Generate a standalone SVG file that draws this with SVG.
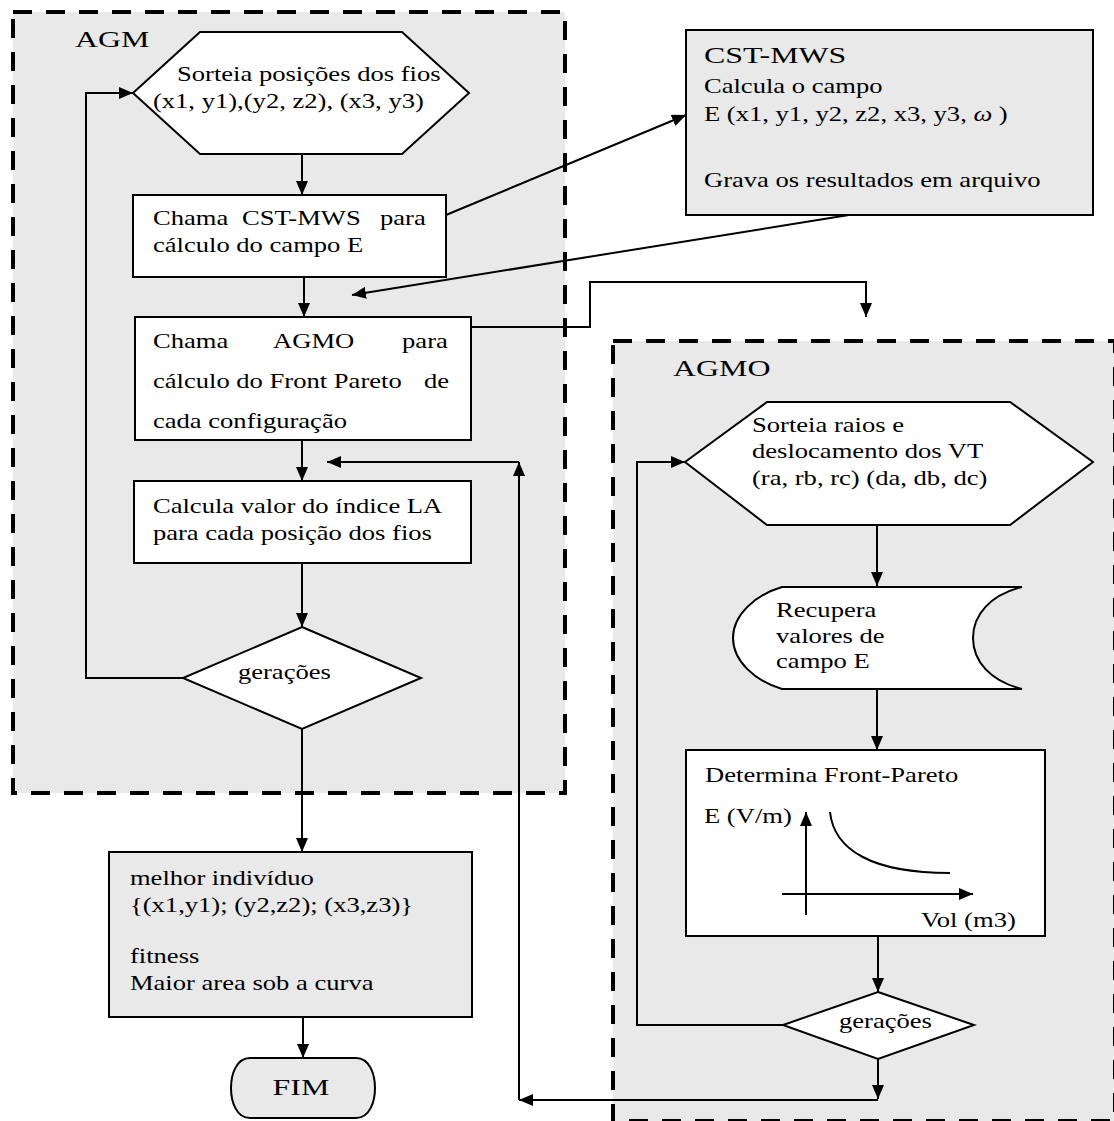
<svg xmlns="http://www.w3.org/2000/svg" width="1114" height="1121" viewBox="0 0 1114 1121">
<style>
.t{font-family:"Liberation Serif","Times New Roman",serif;font-size:20px;fill:#000}
.big{font-size:24px}
.box{fill:#fff;stroke:#000;stroke-width:2}
.gbox{fill:#e9e9e9;stroke:#000;stroke-width:2}
.grp{fill:#e9e9e9;stroke:#000;stroke-width:4;stroke-dasharray:19 14}
.c{fill:none;stroke:#000;stroke-width:2}
</style>
<defs>
<marker id="ah" markerWidth="14" markerHeight="12" refX="14" refY="6" orient="auto" markerUnits="userSpaceOnUse"><path d="M0,0 L14,6 L0,12 z" fill="#000"/></marker>
</defs>
<rect width="1114" height="1121" fill="#fff"/>
<g id="agm-group">
<rect class="grp" x="13" y="12" width="552" height="781"/>
<text class="t big" transform="scale(1.33,1)" x="56.4" y="47">AGM</text>
</g>
<g id="agmo-group">
<rect class="grp" x="613" y="341" width="502" height="780"/>
<text class="t big" transform="scale(1.33,1)" x="506" y="376">AGMO</text>
</g>
<g id="connectors">
<line class="c" x1="302" y1="154" x2="302" y2="195" marker-end="url(#ah)"/>
<line class="c" x1="304" y1="277" x2="304" y2="317" marker-end="url(#ah)"/>
<line class="c" x1="302" y1="440" x2="302" y2="481" marker-end="url(#ah)"/>
<line class="c" x1="302" y1="563" x2="302" y2="627" marker-end="url(#ah)"/>
<line class="c" x1="302" y1="729" x2="302" y2="852" marker-end="url(#ah)"/>
<line class="c" x1="303" y1="1017" x2="303" y2="1058" marker-end="url(#ah)"/>
<polyline class="c" points="183,678 86,678 86,93 133,93" marker-end="url(#ah)"/>
<line class="c" x1="446" y1="215" x2="686" y2="115" marker-end="url(#ah)"/>
<line class="c" x1="855" y1="214" x2="352" y2="295" marker-end="url(#ah)"/>
<polyline class="c" points="471,327 590,327 590,282 866,282 866,317" marker-end="url(#ah)"/>
<line class="c" x1="877" y1="525" x2="877" y2="586" marker-end="url(#ah)"/>
<line class="c" x1="877" y1="689" x2="877" y2="750" marker-end="url(#ah)"/>
<line class="c" x1="878" y1="936" x2="878" y2="992" marker-end="url(#ah)"/>
<polyline class="c" points="783,1025 637,1025 637,462 685,462" marker-end="url(#ah)"/>
<line class="c" x1="878" y1="1059" x2="878" y2="1099" marker-end="url(#ah)"/>
<line class="c" x1="878" y1="1100" x2="519" y2="1100" marker-end="url(#ah)"/>
<line class="c" x1="519" y1="1100" x2="519" y2="462" marker-end="url(#ah)"/>
<line class="c" x1="519" y1="462" x2="327" y2="462" marker-end="url(#ah)"/>
</g>
<g id="hex1">
<polygon class="box" points="133,93 200,32 402,32 469,93 402,154 200,154"/>
<text class="t" transform="scale(1.33,1)" x="133.1" y="81">Sorteia posições dos fios</text>
<text class="t" transform="scale(1.33,1)" x="115" y="108">(x1, y1),(y2, z2), (x3, y3)</text>
</g>
<g id="box1">
<rect class="box" x="133" y="195" width="313" height="82"/>
<text class="t" transform="scale(1.33,1)" y="225"><tspan x="115">Chama</tspan><tspan x="182">CST-MWS</tspan><tspan x="285.7">para</tspan></text>
<text class="t" transform="scale(1.33,1)" x="115" y="252">cálculo do campo E</text>
</g>
<g id="box2">
<rect class="box" x="135" y="317" width="336" height="123"/>
<text class="t" transform="scale(1.33,1)" y="348"><tspan x="115">Chama</tspan><tspan x="205.3">AGMO</tspan><tspan x="302.3">para</tspan></text>
<text class="t" transform="scale(1.33,1)" y="388"><tspan x="115">cálculo do Front Pareto</tspan><tspan x="318.8">de</tspan></text>
<text class="t" transform="scale(1.33,1)" x="115" y="428">cada configuração</text>
</g>
<g id="box3">
<rect class="box" x="134" y="481" width="337" height="82"/>
<text class="t" transform="scale(1.33,1)" x="115" y="513">Calcula valor do índice LA</text>
<text class="t" transform="scale(1.33,1)" x="115" y="540">para cada posição dos fios</text>
</g>
<g id="dec1">
<polygon class="box" points="302,627 421,678 302,729 183,678"/>
<text class="t" transform="scale(1.33,1)" x="178.9" y="679">gerações</text>
</g>
<g id="box4">
<rect class="gbox" x="109" y="852" width="363" height="165"/>
<text class="t" transform="scale(1.33,1)" x="97.7" y="885">melhor indivíduo</text>
<text class="t" transform="scale(1.33,1)" x="97.7" y="912">{(x1,y1); (y2,z2); (x3,z3)}</text>
<text class="t" transform="scale(1.33,1)" x="97.7" y="963">fitness</text>
<text class="t" transform="scale(1.33,1)" x="97.7" y="990">Maior area sob a curva</text>
</g>
<g id="fim">
<path class="gbox" d="M250,1058 H356 C370,1058 375,1075 375,1088 C375,1101 370,1118 356,1118 H250 C236,1118 231,1101 231,1088 C231,1075 236,1058 250,1058 Z"/>
<text class="t big" transform="scale(1.33,1)" x="226.3" y="1095" text-anchor="middle">FIM</text>
</g>
<g id="cst">
<rect class="gbox" x="686" y="30" width="407" height="185"/>
<text class="t big" transform="scale(1.33,1)" x="529.3" y="63">CST-MWS</text>
<text class="t" transform="scale(1.33,1)" x="529.3" y="93">Calcula o campo</text>
<text class="t" transform="scale(1.33,1)" x="529.3" y="121">E (x1, y1, y2, z2, x3, y3, <tspan font-style="italic">ω</tspan> )</text>
<text class="t" transform="scale(1.33,1)" x="529.3" y="187">Grava os resultados em arquivo</text>
</g>
<g id="hex2">
<polygon class="box" points="685,462 767,402 1010,402 1093,462 1010,525 767,525"/>
<text class="t" transform="scale(1.33,1)" x="565.4" y="432">Sorteia raios e</text>
<text class="t" transform="scale(1.33,1)" x="565.4" y="458">deslocamento dos VT</text>
<text class="t" transform="scale(1.33,1)" x="565.4" y="485">(ra, rb, rc) (da, db, dc)</text>
</g>
<g id="stored">
<path class="box" d="M782,587 H1022 C990,595 973,615 973,638 C973,661 990,681 1022,689 H782 C755,681 733,661 733,638 C733,615 755,595 782,587 Z"/>
<text class="t" transform="scale(1.33,1)" x="583.5" y="617">Recupera</text>
<text class="t" transform="scale(1.33,1)" x="583.5" y="643">valores de</text>
<text class="t" transform="scale(1.33,1)" x="583.5" y="668">campo E</text>
</g>
<g id="pareto">
<rect class="box" x="686" y="750" width="359" height="186"/>
<text class="t" transform="scale(1.33,1)" x="530.1" y="782">Determina Front-Pareto</text>
<text class="t" transform="scale(1.33,1)" x="529.3" y="823">E (V/m)</text>
<text class="t" transform="scale(1.33,1)" x="692.5" y="927">Vol (m3)</text>
<line class="c" x1="806" y1="915" x2="806" y2="812" marker-end="url(#ah)"/>
<line class="c" x1="782" y1="894" x2="973" y2="894" marker-end="url(#ah)"/>
<path class="c" d="M830,812 C834,850 872,873 950,873"/>
</g>
<g id="dec2">
<polygon class="box" points="878,992 974,1025 878,1059 783,1025"/>
<text class="t" transform="scale(1.33,1)" x="630.8" y="1028">gerações</text>
</g>
</svg>
